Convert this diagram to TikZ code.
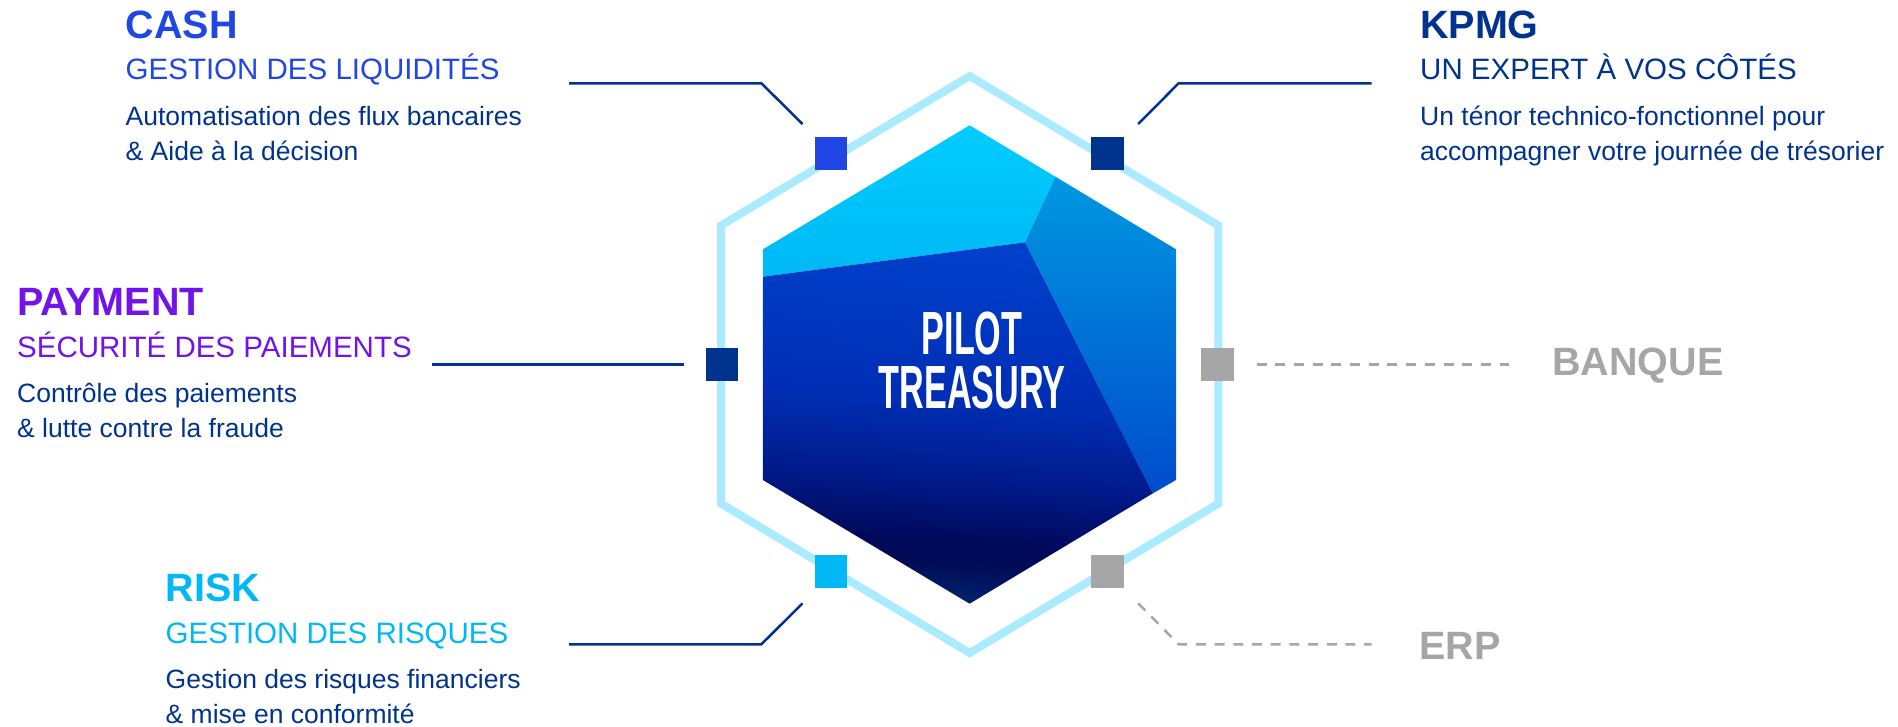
\documentclass[tikz,border=0pt]{standalone}
\usepackage{fontspec}
\setmainfont{Liberation Sans}
\usepackage{graphicx}
\definecolor{cashc}{HTML}{2047E6}
\definecolor{navyc}{HTML}{00338D}
\definecolor{payc}{HTML}{7213EA}
\definecolor{riskc}{HTML}{00B8F5}
\definecolor{greyc}{HTML}{A6A6A6}
\definecolor{hexc}{HTML}{ABEBFF}
\definecolor{facetatop}{HTML}{00CCFF}
\definecolor{facetabot}{HTML}{00B8F5}
\definecolor{facetbtop}{HTML}{0098E0}
\definecolor{facetbbot}{HTML}{004CCC}
\definecolor{ma}{HTML}{00246E}
\definecolor{mb}{HTML}{000A56}
\definecolor{mc}{HTML}{000A5C}
\definecolor{md}{HTML}{001A8A}
\definecolor{me}{HTML}{002EB4}
\definecolor{mf}{HTML}{0041CC}
\pgfdeclareverticalshading{mainshadeb}{100bp}{
 color(0bp)=(ma);
 color(25bp)=(ma);
 color(31bp)=(mb);
 color(34bp)=(mc);
 color(42bp)=(md);
 color(53bp)=(me);
 color(75bp)=(mf);
 color(100bp)=(mf)}
\tikzset{
 title/.style={anchor=base west,inner sep=0pt,font=\fontsize{39.5}{39.5}\selectfont\bfseries},
 subt/.style={anchor=base west,inner sep=0pt,font=\fontsize{29.5}{29.5}\selectfont},
 body/.style={anchor=base west,inner sep=0pt,text=navyc,font=\fontsize{26.5}{26.5}\selectfont},
 sq/.style={inner sep=0pt,minimum width=32pt,minimum height=33pt,fill=#1},
 sqr/.style={inner sep=0pt,minimum width=33pt,minimum height=33pt,fill=#1},
 link/.style={draw=navyc,line width=2.5pt},
 glink/.style={draw=greyc,line width=2.5pt,dash pattern=on 10pt off 8.7pt},
 brand/.style={inner sep=0pt,text=white,align=center,font=\fontsize{61}{54}\selectfont\bfseries}
}
\begin{document}
\begin{tikzpicture}[x=1pt,y=-1pt]
\useasboundingbox (0,0) rectangle (1898,726);
% outer hexagon
\draw[hexc,line width=8pt,miter limit=10]
 (969.7,76) -- (1218.4,225.5) -- (1218.4,503.5) -- (969.7,653) -- (721,503.5) -- (721,225.5) -- cycle;
% inner facets
\path[top color=facetatop,bottom color=facetabot]
 (762.9,249.3) -- (969.6,125.3) -- (1055.4,176.7) -- (1025,242.3) -- (762.9,276.7) -- cycle;
\path[top color=facetbtop,bottom color=facetbbot]
 (1055.4,176.7) -- (1176,249.3) -- (1176,480) -- (1152.9,493.3) -- (1025,242.3) -- cycle;
\path[shading=mainshadeb,shading angle=-4]
 (762.9,276.7) -- (1025,242.3) -- (1152.9,493.3) -- (969.6,603.7) -- (762.9,480) -- cycle;
% centre text
\node[brand] (brandtext) at (972,360.5) {\scalebox{0.56}[1]{PILOT}\\\scalebox{0.56}[1]{TREASURY}};
% squares
\node[sq=cashc] (scash) at (831,153.5) {};
\node[sqr=navyc] (skpmg) at (1107.4,153.5) {};
\node[sq=navyc] (spay) at (722,364.5) {};
\node[sqr=greyc] (sbank) at (1217.5,364.5) {};
\node[sq=riskc] (srisk) at (831,571) {};
\node[sqr=greyc] (serp) at (1107.4,571) {};
% connector ends
\coordinate (ca) at (569,83.3); \coordinate (cb) at (761.4,83.3); \coordinate (cc) at (802.5,124);
\coordinate (ka) at (1371.5,83.3); \coordinate (kb) at (1178.6,83.3); \coordinate (kc) at (1138.2,124);
\coordinate (pa) at (432,364.4); \coordinate (pb) at (684,364.4);
\coordinate (ba) at (1256.5,364.4); \coordinate (bb) at (1509,364.4);
\coordinate (ra) at (569,644.3); \coordinate (rb) at (761.4,644.3); \coordinate (rc) at (802.5,603.3);
\coordinate (ea) at (1371.5,644.3); \coordinate (eb) at (1178.6,644.3); \coordinate (ec) at (1138.2,603.3);
\draw[link] (ca) -- (cb) -- (cc);
\draw[link] (ka) -- (kb) -- (kc);
\draw[link] (pa) -- (pb);
\draw[glink] (ba) -- (bb);
\draw[link] (ra) -- (rb) -- (rc);
\draw[glink] (ec) -- (eb) -- (ea);
% texts
\node[title,text=cashc] (t1) at (125.5,38.5) {CASH};
\node[subt,text=cashc] (t2) at (125.5,79.5) {GESTION DES LIQUIDITÉS};
\node[body] (t3) at (125.5,125) {Automatisation des flux bancaires};
\node[body] (t4) at (125.5,160) {\& Aide à la décision};
\node[title,text=navyc] (t5) at (1420,38.5) {KPMG};
\node[subt,text=navyc] (t6) at (1420,79.5) {UN EXPERT À VOS CÔTÉS};
\node[body] (t7) at (1420,125) {Un ténor technico-fonctionnel pour};
\node[body] (t8) at (1420,160) {accompagner votre journée de trésorier};
\node[title,text=payc] (t9) at (17,315.5) {PAYMENT};
\node[subt,text=payc] (t10) at (17,357.5) {SÉCURITÉ DES PAIEMENTS};
\node[body] (t11) at (17,402) {Contrôle des paiements};
\node[body] (t12) at (17,437) {\& lutte contre la fraude};
\node[title,text=riskc] (t13) at (165.5,601) {RISK};
\node[subt,text=riskc] (t14) at (165.5,643) {GESTION DES RISQUES};
\node[body] (t15) at (165.5,688) {Gestion des risques financiers};
\node[body] (t16) at (165.5,723) {\& mise en conformité};
\node[title,text=greyc] (t17) at (1552,375.5) {BANQUE};
\node[title,text=greyc] (t18) at (1419,659) {ERP};
\end{tikzpicture}
\end{document}
